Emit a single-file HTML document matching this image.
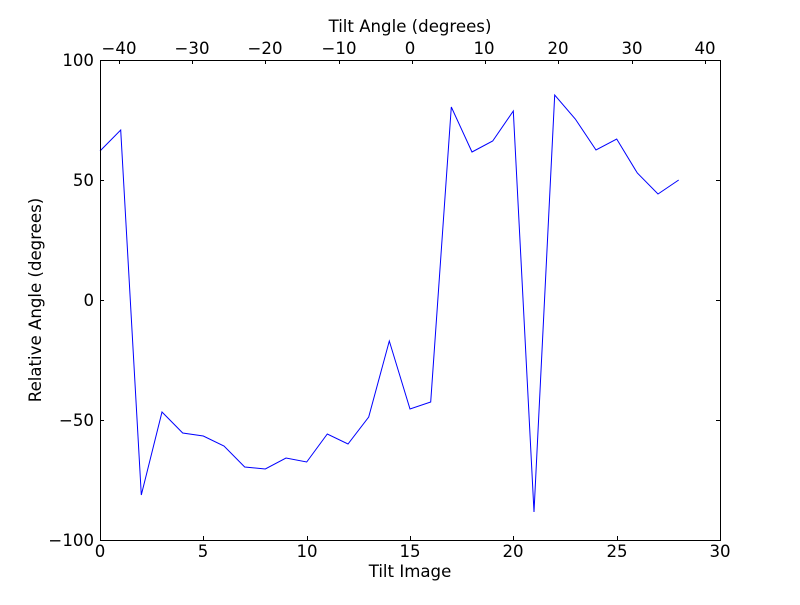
<!DOCTYPE html>
<html><head><meta charset="utf-8"><style>
body{margin:0;background:#fff}
svg text{font-family:"DejaVu Sans","Liberation Sans",sans-serif;font-size:16.6px;fill:#000}
</style></head><body>
<svg width="800" height="600" xmlns="http://www.w3.org/2000/svg">
<rect width="800" height="600" fill="#fff"/>
<g stroke="#000" stroke-width="1">
<line x1="100.5" y1="540" x2="100.5" y2="536"/><line x1="100.5" y1="60" x2="100.5" y2="64"/>
<line x1="203.5" y1="540" x2="203.5" y2="536"/>
<line x1="307.5" y1="540" x2="307.5" y2="536"/>
<line x1="410.5" y1="540" x2="410.5" y2="536"/>
<line x1="513.5" y1="540" x2="513.5" y2="536"/>
<line x1="617.5" y1="540" x2="617.5" y2="536"/>
<line x1="119.5" y1="60" x2="119.5" y2="64"/>
<line x1="192.5" y1="60" x2="192.5" y2="64"/>
<line x1="265.5" y1="60" x2="265.5" y2="64"/>
<line x1="339.5" y1="60" x2="339.5" y2="64"/>
<line x1="412.5" y1="60" x2="412.5" y2="64"/>
<line x1="485.5" y1="60" x2="485.5" y2="64"/>
<line x1="558.5" y1="60" x2="558.5" y2="64"/>
<line x1="632.5" y1="60" x2="632.5" y2="64"/>
<line x1="705.5" y1="60" x2="705.5" y2="64"/>
<line x1="100" y1="180.5" x2="104" y2="180.5"/><line x1="720" y1="180.5" x2="716" y2="180.5"/>
<line x1="100" y1="300.5" x2="104" y2="300.5"/><line x1="720" y1="300.5" x2="716" y2="300.5"/>
<line x1="100" y1="420.5" x2="104" y2="420.5"/><line x1="720" y1="420.5" x2="716" y2="420.5"/>
</g>
<polyline fill="none" stroke="#0000ff" stroke-width="1" points="100,151 120.7,130 141.3,495 162,412 182.7,433 203.3,436 224,446 244.7,467 265.3,469 286,458 306.7,462 327.3,434 348,444 368.7,417 389.3,341 410,409 430.7,402 451.3,107 472,152 492.7,141 513.3,111 534,512 554.7,95 575.3,119 596,150 616.7,139 637.3,173 658,194 678.7,180"/>
<rect x="100.5" y="60.5" width="620" height="480" fill="none" stroke="#000" stroke-width="1"/>
<g text-anchor="middle">
<text x="100" y="557">0</text><text x="203" y="557">5</text><text x="307" y="557">10</text>
<text x="410" y="557">15</text><text x="513" y="557">20</text><text x="617" y="557">25</text><text x="720" y="557">30</text>
<text x="410" y="577">Tilt Image</text>
<text x="119" y="54">−40</text><text x="192" y="54">−30</text><text x="265" y="54">−20</text><text x="339" y="54">−10</text>
<text x="410" y="54">0</text><text x="484" y="54">10</text><text x="558" y="54">20</text><text x="632" y="54">30</text><text x="705" y="54">40</text>
<text x="410" y="32">Tilt Angle (degrees)</text>
</g>
<g text-anchor="end">
<text x="94" y="66">100</text><text x="94" y="186">50</text><text x="94" y="306">0</text>
<text x="94" y="426">−50</text><text x="94" y="546">−100</text>
</g>
<text transform="translate(41,300) rotate(-90)" text-anchor="middle">Relative Angle (degrees)</text>
</svg>
</body></html>
